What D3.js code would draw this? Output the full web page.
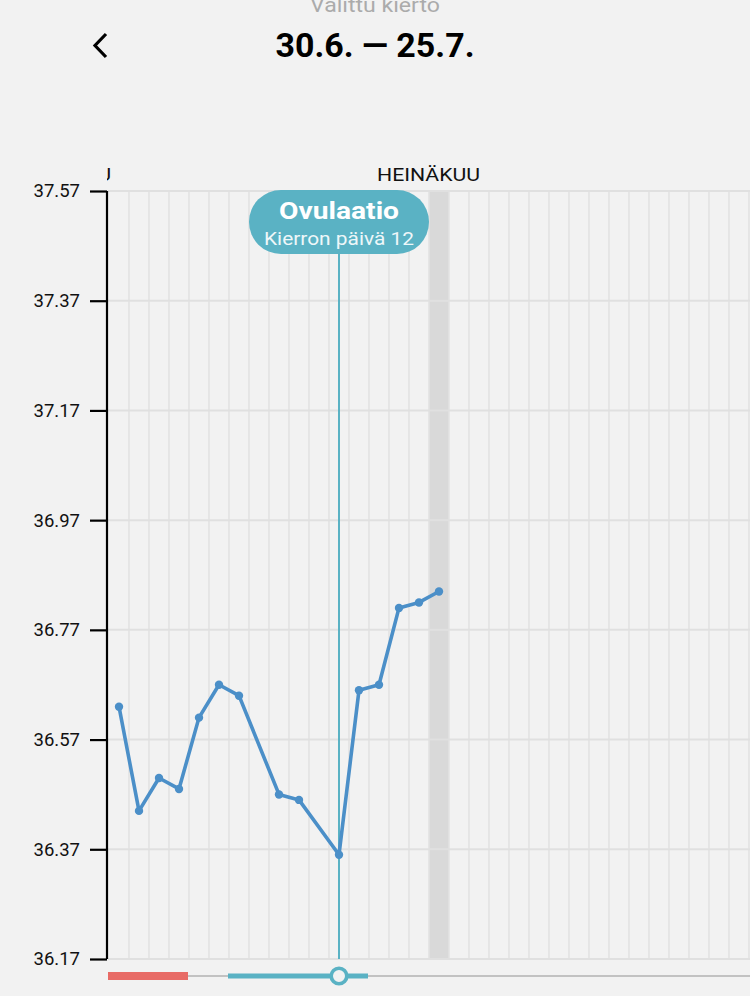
<!DOCTYPE html>
<html>
<head>
<meta charset="utf-8">
<script src="https://cdn.jsdelivr.net/npm/d3@7"></script>
<style>
  html, body { margin: 0; padding: 0; background: #f2f2f2; }
  svg { display: block; font-family: Roboto, "Liberation Sans", sans-serif; }
</style>
</head>
<body>
<svg id="chart" width="750" height="996"></svg>
<script>
// cycle days with a reading (days 8 and 11 have none)
const days = [1, 2, 3, 4, 5, 6, 7, 9, 10, 12, 13, 14, 15, 16, 17];
const temps = [36.63, 36.44, 36.50, 36.48, 36.61, 36.67, 36.65, 36.47, 36.46, 36.36, 36.66, 36.67, 36.81, 36.82, 36.84];
const yTicks = [36.17, 36.37, 36.57, 36.77, 36.97, 37.17, 37.37, 37.57];
const monthLabels = ["KESÄKUU", "HEINÄKUU"];
const monthDays = [0.5, 14];      // where each month label sits (day units)
const periodDays = [1, 4];        // red bar
const fertileDays = [7, 13];      // teal bar
const ovulationDay = 12;
const todayDay = 17;
const visibleDays = 33;

const svg = d3.select('#chart');
const width = +svg.attr('width');
const margin = {top: 191, left: 108, bottom: 959};

const xScale = d3.scaleLinear().domain([0.5, visibleDays + 0.5]).range([margin.left + 1, margin.left + 1 + visibleDays * 20]);
const yScale = d3.scaleLinear().domain([36.17, 37.57]).range([margin.bottom, margin.top]);

const teal = '#5ab2c4';
const blue = '#4b8fc8';

// header
svg.append('text').attr('x', 375).attr('y', 12).attr('text-anchor', 'middle')
  .attr('font-size', 20).attr('fill', '#ababab')
  .attr('textLength', 130).attr('lengthAdjust', 'spacingAndGlyphs')
  .text('Valittu kierto');
svg.append('text').attr('x', 375).attr('y', 57).attr('text-anchor', 'middle')
  .attr('font-size', 33).attr('font-weight', 'bold').attr('fill', '#000')
  .attr('textLength', 199).attr('lengthAdjust', 'spacingAndGlyphs')
  .text('30.6. — 25.7.');
svg.append('path').attr('d', 'M106,34 L95,45.5 L106,57').attr('fill', 'none')
  .attr('stroke', '#000').attr('stroke-width', 3.2);

// today band
svg.append('rect')
  .attr('x', xScale(todayDay - 0.5)).attr('width', xScale(todayDay + 0.5) - xScale(todayDay - 0.5))
  .attr('y', margin.top).attr('height', margin.bottom - margin.top)
  .attr('fill', '#d9d9d9');

// vertical grid at day boundaries
const gridDays = d3.range(1.5, visibleDays + 0.5, 1);
svg.append('g').selectAll('line').data(gridDays).enter().append('line')
  .attr('x1', d => xScale(d)).attr('x2', d => xScale(d))
  .attr('y1', margin.top).attr('y2', margin.bottom)
  .attr('stroke', '#e2e2e2').attr('stroke-width', 1.6);

// horizontal grid
svg.append('g').selectAll('line').data(yTicks).enter().append('line')
  .attr('x1', margin.left).attr('x2', width)
  .attr('y1', d => yScale(d)).attr('y2', d => yScale(d))
  .attr('stroke', '#e0e0e0').attr('stroke-width', 2);

// y axis
const yAxis = svg.append('g').attr('transform', `translate(${margin.left - 1}, 0)`)
  .call(d3.axisLeft(yScale).tickValues(yTicks).tickSize(17).tickPadding(10).tickFormat(d3.format('.2f')));
yAxis.select('.domain').attr('stroke', '#000').attr('stroke-width', 2.2)
  .attr('d', `M0,${margin.top}V${margin.bottom}`);
yAxis.selectAll('.tick line').attr('stroke', '#000').attr('stroke-width', 2.2);
yAxis.selectAll('.tick text').attr('font-size', 18.5).attr('fill', '#111')
  .attr('font-family', 'Roboto, "Liberation Sans", sans-serif');

// month labels, clipped at the axis
svg.append('clipPath').attr('id', 'monthClip').append('rect')
  .attr('x', margin.left - 1).attr('y', 150).attr('width', width).attr('height', 40);
svg.append('g').attr('clip-path', 'url(#monthClip)').selectAll('text').data(monthLabels).enter().append('text')
  .attr('x', (d, i) => xScale(monthDays[i]) + (i === 0 ? 2 : -2))
  .attr('y', 181)
  .attr('text-anchor', (d, i) => i === 0 ? 'end' : 'start')
  .attr('font-size', 18).attr('fill', '#111')
  .attr('textLength', (d, i) => i === 0 ? 90 : 103).attr('lengthAdjust', 'spacingAndGlyphs')
  .text(d => d);

// ovulation marker
const ox = xScale(ovulationDay);
svg.append('line').attr('x1', ox).attr('x2', ox).attr('y1', 250).attr('y2', margin.bottom)
  .attr('stroke', teal).attr('stroke-width', 2);
svg.append('rect').attr('x', ox - 90).attr('y', 190).attr('width', 180).attr('height', 64)
  .attr('rx', 32).attr('fill', teal);
svg.append('text').attr('x', ox).attr('y', 219).attr('text-anchor', 'middle')
  .attr('font-size', 23.5).attr('font-weight', 'bold').attr('fill', '#fff')
  .attr('textLength', 120).attr('lengthAdjust', 'spacingAndGlyphs')
  .text('Ovulaatio');
svg.append('text').attr('x', ox).attr('y', 245).attr('text-anchor', 'middle')
  .attr('font-size', 18).attr('fill', '#eef7f9')
  .attr('textLength', 150).attr('lengthAdjust', 'spacingAndGlyphs')
  .text('Kierron päivä ' + ovulationDay);

// temperature line
const data = days.map((d, i) => ({day: d, temp: temps[i]}));
const line = d3.line().x(d => xScale(d.day)).y(d => yScale(d.temp));
svg.append('path').datum(data).attr('d', line).attr('fill', 'none')
  .attr('stroke', blue).attr('stroke-width', 3.6).attr('stroke-linejoin', 'round');
svg.append('g').selectAll('circle').data(data).enter().append('circle')
  .attr('cx', d => xScale(d.day)).attr('cy', d => yScale(d.temp)).attr('r', 4.2)
  .attr('fill', blue);

// cycle track at bottom
const trackY = 976;
svg.append('line').attr('x1', margin.left).attr('x2', width).attr('y1', trackY).attr('y2', trackY)
  .attr('stroke', '#c2c2c2').attr('stroke-width', 2);
svg.append('rect').attr('x', xScale(periodDays[0] - 0.5) - 1).attr('y', trackY - 4)
  .attr('width', xScale(periodDays[1] + 0.5) - xScale(periodDays[0] - 0.5)).attr('height', 8)
  .attr('fill', '#e86b66');
svg.append('rect').attr('x', xScale(fertileDays[0] - 0.5) - 1).attr('y', trackY - 2.5)
  .attr('width', xScale(fertileDays[1] + 0.5) - xScale(fertileDays[0] - 0.5)).attr('height', 5)
  .attr('fill', teal);
svg.append('circle').attr('cx', ox).attr('cy', trackY).attr('r', 7.8)
  .attr('fill', '#f2f2f2').attr('stroke', teal).attr('stroke-width', 3.6);
</script>
</body>
</html>
